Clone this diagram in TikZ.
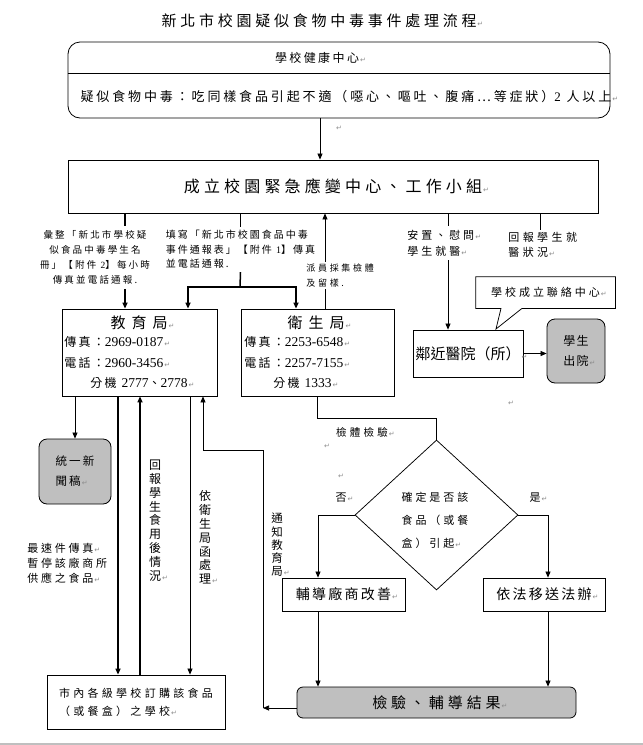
\documentclass[tikz,border=0pt]{standalone}
\usepackage{fontspec}
\setmainfont{Noto Sans CJK TC}
\newfontfamily\numf{Liberation Serif}
\newfontfamily\djv{DejaVu Sans}
\usetikzlibrary{arrows.meta,shapes.geometric}
\newcommand\zh[3]{\fontsize{#1}{#2}\selectfont\addfontfeature{LetterSpace=#3}}
\newcommand\nm[1]{{\numf\fontsize{13.5}{15}\selectfont #1}}
\newcommand\retmark{\rlap{\kern1pt\textcolor{black!45}{\djv\fontsize{7}{7}\selectfont ↵}}}

\tikzset{every picture/.style={line width=0.75pt}}
\tikzset{
  box/.style={draw, rectangle, inner sep=1pt, line width=0.8pt},
  gbox/.style={box, rounded corners=8pt, fill={rgb,255:red,191;green,191;blue,191}},
  lbl/.style={inner sep=1pt},
  infont/.style={lbl, anchor=west, font={\zh{12}{14}{19}}},
  vtext/.style={lbl, align=center, font={\zh{12}{13.8}{0}}},
  arr/.style={-{Triangle[length=6pt,width=5pt]}},
  thk/.style={line width=1.5pt},
}

\begin{document}
\begin{tikzpicture}[x=1pt,y=1pt,yscale=-1]
\useasboundingbox (0,0) rectangle (643,745);

%columns of the connectors
\coordinate (xmain) at (320,0);
\coordinate (xlist) at (125,0);
\coordinate (xedu) at (188,0);
\coordinate (xhb) at (296,0);
\coordinate (xsample) at (325,0);
\coordinate (xcare) at (448,0);
\coordinate (xback) at (540,0);
\coordinate (xfax) at (118,0);
\coordinate (xreport) at (140,0);
\coordinate (xletter) at (190,0);
\coordinate (xnotify) at (263,0);
\coordinate (xfix) at (318,0);
\coordinate (xlaw) at (548,0);
\coordinate (split) at (240,287);
\coordinate (bend) at (203,450);
\coordinate (hcdiv) at (0,73);
\coordinate (tip) at (496,329);

% Title
\node[lbl, font={\zh{15}{18}{25}}] (ttl) at (319,21) {新北市校園疑似食物中毒事件處理流程\retmark};

% School health centre
\node[box, rounded corners=12pt, minimum width=542, minimum height=76] (hc) at (339,80) {};
\draw (hc.west |- hcdiv) -- (hc.east |- hcdiv);
\node[lbl, font={\zh{12}{14}{20}}] (hct) at (317,58) {學校健康中心\retmark};
\node[lbl, font={\zh{13}{15}{22}}] (hcb) at (346,97) {疑似食物中毒：吃同樣食品引起不適（噁心、嘔吐、腹痛…等症狀）{\numf 2} 人以上\retmark};
\node[lbl] (r1) at (335,128) {\retmark};

% Emergency centre
\node[box, minimum width=530, minimum height=53, font={\zh{16}{18}{26}}] (tr) at (333,186.5) {成立校園緊急應變中心、工作小組\retmark};

% Education bureau
\node[box, minimum width=155, minimum height=87] (edu) at (139.5,352.5) {};
\node[lbl, font={\zh{15}{17}{40}}] (edu1) at (139,323) {教育局\retmark};
\node[infont] (edu2) at (63,342) {傳真：\nm{2969-0187}\retmark};
\node[infont] (edu3) at (63,363) {電話：\nm{2960-3456}\retmark};
\node[infont] (edu4) at (89,383) {分機 \nm{2777}、\nm{2778}\retmark};

% Health bureau
\node[box, minimum width=153, minimum height=87] (hb) at (317.5,352.5) {};
\node[lbl, font={\zh{15}{17}{40}}] (hb1) at (316,323) {衛生局\retmark};
\node[infont] (hb2) at (243,342) {傳真：\nm{2253-6548}\retmark};
\node[infont] (hb3) at (243,363) {電話：\nm{2257-7155}\retmark};
\node[infont] (hb4) at (272,383) {分機 \nm{1333}\retmark};

% Hospital, discharge, callout
\node[box, minimum width=110, minimum height=47, font={\zh{15}{17}{0}}] (hosp) at (468,353.5) {鄰近醫院（所）\retmark};
\node[gbox, minimum width=58, minimum height=64, align=center, font={\zh{12}{20}{12}}] (out) at (576,351) {學生\\出院\retmark};
\node[lbl, minimum width=139, minimum height=31, font={\zh{11}{13}{27}}] (call) at (545.5,292.5) {學校成立聯絡中心\retmark};
\draw (call.south west) -- (call.north west) -- (call.north east) -- (call.south east) -- ([xshift=-23.5pt]call.south) -- (tip) -- ([xshift=-44.5pt]call.south) -- cycle;
\node[lbl] (r2) at (507,403) {\retmark};

% Left column
\node[gbox, minimum width=72, minimum height=65, align=left, font={\zh{11.5}{20}{19}}] (news) at (75,471.5) {統一新\\聞稿\retmark};
\node[box, minimum width=178, minimum height=54, align=left, font={\zh{11}{18}{30}}] (sch) at (136,702) {市內各級學校訂購該食品\\（或餐盒）之學校\retmark};

% Inspection
\node[draw, diamond, minimum width=163, minimum height=150, inner sep=0pt] (dia) at (436.5,515) {};
\node[lbl, align=left, font={\zh{11}{23}{27}}] (diat) at (435,520) {確定是否該\\食品（或餐\\盒）引起\retmark};
\node[box, minimum width=123, minimum height=33, font={\zh{14}{16}{16}}] (fix) at (343.5,594.5) {輔導廠商改善\retmark};
\node[box, minimum width=122, minimum height=33, font={\zh{14}{16}{16}}] (law) at (544,594.5) {依法移送法辦\retmark};
\node[gbox, rounded corners=6pt, minimum width=279, minimum height=31, font={\zh{15}{17}{26}}] (res) at (436.5,702.5) {檢驗、輔導結果\retmark};
\node[lbl, font={\zh{10.5}{12}{31}}] (t10) at (362,432) {檢體檢驗\retmark};
\node[lbl, font={\zh{11}{13}{0}}] (no) at (341,498) {否\retmark};
\node[lbl, font={\zh{11}{13}{0}}] (yes) at (535,498) {是\retmark};
\node[lbl] (r3) at (323,446) {\retmark};
\node[lbl] (r4) at (337,476) {\retmark};

% Text Nodes on the connectors
\node[lbl, inner ysep=4pt, align=center, font={\zh{9.5}{15}{23}}] (t1) at (95,257.5) {彙整「新北市學校疑\\似食品中毒學生名\\冊」【附件 {\numf 2}】每小時\\傳真並電話通報.};
\node[lbl, inner ysep=3pt, align=left, font={\zh{10}{14.5}{20}}] (t2) at (240.5,249.5) {填寫「新北市校園食品中毒\\事件通報表」【附件 {\numf 1}】傳真\\並電話通報.};
\node[lbl, inner ysep=4pt, align=left, anchor=west, font={\zh{11}{16}{27}}] (t4) at (406,243) {安置、慰問\retmark\\學生就醫\retmark};
\node[lbl, inner ysep=2pt, align=left, anchor=west, font={\zh{11}{15}{31}}] (t5) at (507,244.5) {回報學生就\\醫狀況\retmark};
\node[lbl, align=left, anchor=west, font={\zh{11}{15}{25}}] (t6) at (26,563) {最速件傳真\retmark\\暫停該廠商所\\供應之食品\retmark};
\node[vtext] (t7) at (155,520.5) {回\\報\\學\\生\\食\\用\\後\\情\\況\retmark};
\node[vtext] (t8) at (205,537.5) {依\\衛\\生\\局\\函\\處\\理\retmark};
\node[vtext, font={\zh{11.5}{13.2}{0}}] (t9) at (277,545) {通\\知\\教\\育\\局\retmark};

%Straight Lines
\draw[arr] (hc.south -| xmain) -- (tr.north -| xmain);
\draw[thk] (tr.south -| xlist) -- (t1.north -| xlist);
\draw[thk,arr] (t1.south -| xlist) -- (edu.north -| xlist);
\draw[thk] (tr.south -| t2) -- (t2.north);
\draw[thk] (t2.south) -- (split);
\draw[thk,arr] (split) -| (edu.north -| xedu);
\draw[thk,arr] (split) -| (hb.north -| xhb);
\draw[arr] (hb.north -| xsample) -- (tr.south -| xsample);
\draw (tr.south -| xcare) -- (t4.north -| xcare);
\draw[arr] (t4.south -| xcare) -- (hosp.north -| xcare);
\draw (tr.south -| xback) -- (t5.north -| xback);
\draw[arr] (hosp.east) -- (hosp.east -| out.west);

\draw[arr] (edu.south -| news) -- (news.north);
\draw[thk,arr] (edu.south -| xfax) -- (sch.north -| xfax);
\draw[thk,arr] (sch.north -| xreport) -- (edu.south -| xreport);
\draw[arr] (edu.south -| xletter) -- (sch.north -| xletter);
\draw[arr] ([yshift=5.5pt]res.west) -- ([yshift=5.5pt]res.west -| xnotify);
\draw[arr] ([yshift=5.5pt]res.west -| xnotify) |- (bend) -- (edu.south -| bend);

\draw (hb.south) -- ++(0,22) -| (dia.north);
\draw[arr] (dia.west) -| (fix.north -| xfix);
\draw[arr] (dia.east) -| (law.north -| xlaw);
\draw[arr] (fix.south -| xfix) -- (res.north -| xfix);
\draw[arr] (law.south -| xlaw) -- (res.north -| xlaw);

% Text Node over the sampling line
\node[lbl, fill=white, inner ysep=2pt, align=left, anchor=west, font={\zh{9}{15}{30}}] (t3) at (305,275.5) {派員採集檢體\\及留樣.};

% page edge
\draw[black!25, line width=1.5pt] (0,744) -- (643,744);
\end{tikzpicture}
\end{document}
